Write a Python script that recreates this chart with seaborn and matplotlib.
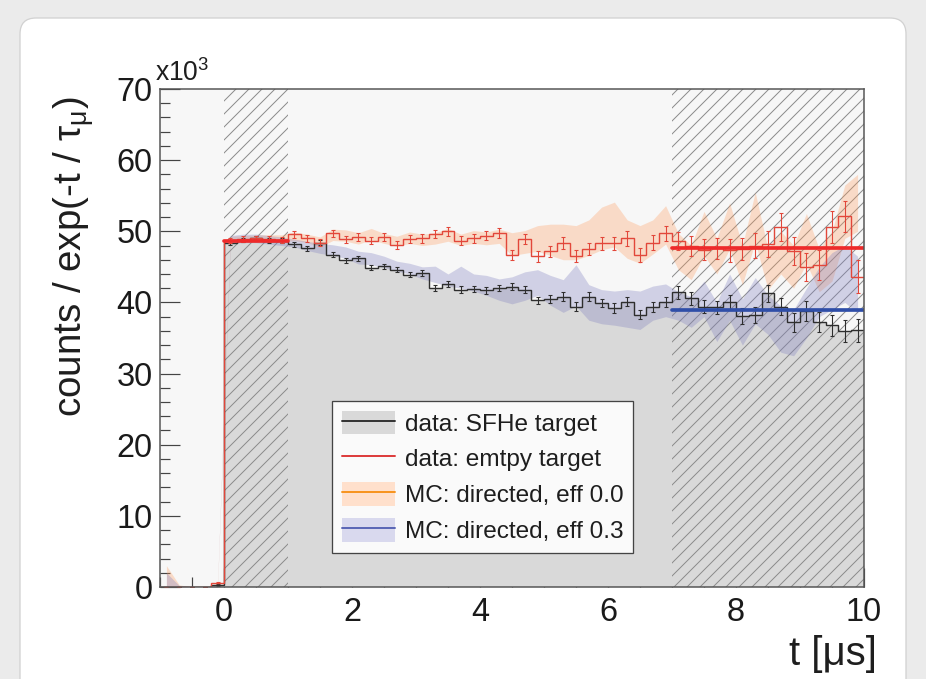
import numpy as np
import pandas as pd
import matplotlib
matplotlib.use("Agg")
import matplotlib.pyplot as plt
import seaborn as sns
from matplotlib.patches import Patch, FancyBboxPatch
from matplotlib.lines import Line2D
from matplotlib.ticker import MultipleLocator, FixedLocator
from matplotlib.transforms import IdentityTransform
from matplotlib.legend_handler import HandlerTuple

# ---------------- data (values in units of 10^3) ----------------
t_edges = np.round(np.arange(-1.0, 10.0001, 0.2), 1)
t_centers = np.round(0.5 * (t_edges[:-1] + t_edges[1:]), 2)

sfhe = [0, 0, 0, 0, 0.3,
        48.4, 48.8, 49.0, 48.7, 48.7,
        48.2, 47.6, 48.4, 46.7, 45.9,
        46.2, 44.9, 45.1, 44.6, 43.9,
        44.1, 42.0, 42.6, 41.8, 41.9,
        41.7, 42.0, 42.2, 41.8, 40.3,
        40.5, 40.8, 39.4, 40.8, 39.9,
        39.2, 40.1, 38.3, 39.4, 40.1,
        41.4, 40.6, 39.4, 39.3, 40.0,
        38.1, 38.2, 41.3, 39.4, 37.2,
        38.8, 37.2, 36.8, 36.0, 36.1]
sfhe_err = [0, 0, 0, 0, 0.1,
            0.3, 0.3, 0.3, 0.3, 0.3,
            0.35, 0.35, 0.35, 0.35, 0.35,
            0.35, 0.35, 0.35, 0.35, 0.35,
            0.45, 0.45, 0.45, 0.45, 0.45,
            0.45, 0.45, 0.5, 0.5, 0.5,
            0.6, 0.6, 0.6, 0.6, 0.6,
            0.65, 0.65, 0.65, 0.7, 0.7,
            0.9, 0.9, 0.9, 0.9, 1.0,
            1.1, 1.1, 1.2, 1.2, 1.3,
            1.4, 1.4, 1.5, 1.5, 1.6]

empty = [0, 0, 0, 0, 0.6,
         48.7, 48.9, 49.0, 48.9, 48.8,
         49.6, 49.0, 48.4, 49.7, 48.9,
         49.2, 48.7, 49.2, 48.1, 48.9,
         49.0, 49.6, 50.0, 48.7, 49.0,
         49.4, 49.8, 46.7, 48.9, 46.5,
         47.2, 48.3, 46.5, 47.5, 48.3,
         48.3, 49.0, 46.7, 48.4, 49.7,
         48.6, 47.9, 47.4, 47.6, 47.3,
         47.5, 48.0, 48.2, 50.6, 47.2,
         45.0, 45.2, 50.6, 52.1, 43.6]
empty_err = [0, 0, 0, 0, 0.1,
             0.4, 0.4, 0.4, 0.4, 0.4,
             0.5, 0.5, 0.5, 0.5, 0.5,
             0.5, 0.5, 0.55, 0.55, 0.55,
             0.6, 0.6, 0.6, 0.65, 0.65,
             0.65, 0.7, 0.7, 0.75, 0.75,
             0.8, 0.85, 0.85, 0.9, 0.9,
             0.95, 1.0, 1.0, 1.05, 1.1,
             1.3, 1.4, 1.5, 1.5, 1.6,
             1.6, 1.7, 1.8, 2.0, 2.0,
             2.0, 2.1, 2.2, 2.2, 2.3]

mc_eff00_lo = [0, 0, 0, 0, 0,
               48.4, 48.6, 48.6, 48.7, 48.5,
               48.7, 48.4, 47.8, 48.7, 48.6,
               48.2, 48.8, 48.3, 47.9, 48.3,
               48.0, 48.2, 48.6, 48.0, 48.3,
               48.1, 48.3, 46.6, 46.9, 47.2,
               46.6, 46.0, 46.0, 46.6, 47.4,
               47.8, 46.2, 45.5, 46.8, 48.2,
               44.6, 43.2, 46.6, 44.0, 47.5,
               42.5, 48.5, 41.8, 44.0, 42.0,
               45.5, 41.5, 43.0, 49.0, 50.0]
mc_eff00_hi = [3.0, 0.3, 0, 0, 0.5,
               49.3, 49.4, 49.5, 49.5, 49.5,
               49.9, 49.6, 49.2, 50.3, 50.2,
               49.8, 50.4, 49.7, 49.3, 49.9,
               49.6, 49.8, 50.4, 49.6, 50.1,
               49.9, 50.3, 49.8, 50.1, 50.8,
               51.0, 51.0, 50.8, 51.6, 53.4,
               54.1, 51.6, 50.8, 51.6, 53.6,
               49.7, 48.0, 52.8, 49.0, 54.0,
               48.0, 55.5, 47.5, 50.0, 48.0,
               52.5, 47.5, 50.0, 56.5, 58.0]

mc_eff03_lo = [0, 0, 0, 0, 0,
               48.3, 48.4, 48.4, 48.2, 48.0,
               47.8, 47.3, 46.9, 46.6, 46.2,
               45.4, 45.3, 44.9, 44.4, 44.0,
               43.3, 42.8, 42.3, 42.0, 41.6,
               41.0, 40.3, 39.8, 40.3, 41.0,
               39.6, 38.6, 39.5, 37.5, 37.0,
               36.8, 36.5, 36.2, 37.5, 38.0,
               37.5, 36.5, 38.0, 34.5, 37.5,
               34.0, 37.0, 35.5, 33.0, 32.5,
               35.0, 38.0, 39.0, 40.0, 38.5]
mc_eff03_hi = [2.0, 0.2, 0, 0, 0.3,
               49.4, 49.6, 49.6, 49.4, 49.2,
               48.9, 48.6, 48.3, 48.1, 47.8,
               47.2, 47.0, 46.5, 45.8, 45.5,
               45.0, 45.1, 44.0, 45.1, 44.0,
               43.8, 43.3, 43.6, 44.3, 44.6,
               43.8, 43.2, 45.3, 42.5, 41.8,
               41.6, 41.8, 41.6, 42.3, 42.6,
               41.5, 40.8, 43.0, 40.0, 44.0,
               40.5, 43.5, 41.0, 39.5, 39.0,
               42.0, 45.0, 47.0, 48.0, 46.5]

fit_early_t = [0, 1]
fit_early_empty = [48.7, 48.7]
fit_late_t = [7, 10]
fit_late_empty = [47.7, 47.7]
fit_late_sfhe = [39.0, 39.0]

veto_regions = [(0, 1), (7, 10)]
x_ticks = [0, 2, 4, 6, 8, 10]
y_ticks = [0, 10, 20, 30, 40, 50, 60, 70]
legend_labels = ["data: SFHe target", "data: emtpy target",
                 "MC: directed, eff 0.0", "MC: directed, eff 0.3"]

# ---------------- style ----------------
sns.set_style("ticks")
plt.rcParams["font.family"] = ["Liberation Sans", "DejaVu Sans"]
plt.rcParams["mathtext.fontset"] = "custom"
plt.rcParams["mathtext.rm"] = "Liberation Sans"
plt.rcParams["mathtext.it"] = "Liberation Sans:italic"
plt.rcParams["hatch.linewidth"] = 0.9
plt.rcParams["text.color"] = "#1e1e1e"

DPI = 78
fig = plt.figure(figsize=(926 / DPI, 679 / DPI), dpi=DPI, facecolor="#ebebeb")
panel = FancyBboxPatch((20, -40), 886, 679 - 18 + 40,
                       boxstyle="round,pad=0,rounding_size=16",
                       transform=IdentityTransform(), facecolor="white",
                       edgecolor="#d2d2d2", lw=1.2, zorder=0)
fig.add_artist(panel)

ax = fig.add_axes([160 / 926, 92 / 679, 704 / 926, 498 / 679])
ax.set_facecolor("#f7f7f7")

# grey filled SFHe histogram
df_sfhe = pd.DataFrame({"t": t_centers, "counts": sfhe})
sns.histplot(data=df_sfhe, x="t", weights="counts", bins=list(t_edges), element="step",
             fill=True, color="#d9d9d9", alpha=1, linewidth=0, ax=ax, zorder=1)

# veto (hatched) regions
for (a, b) in veto_regions:
    ax.axvspan(a, b, facecolor="none", edgecolor="#8a8a8a", hatch="//", lw=0, zorder=2)

# MC bands
ax.fill_between(t_centers, mc_eff00_lo, mc_eff00_hi, color="#ff9a5a", alpha=0.3, lw=0, zorder=3)
ax.fill_between(t_centers, mc_eff03_lo, mc_eff03_hi, color="#8080c0", alpha=0.32, lw=0, zorder=3)

# data histograms
ax.stairs(sfhe, t_edges, baseline=None, color="#2e2e2e", lw=1.3, zorder=4)
ax.errorbar(t_centers, sfhe, yerr=sfhe_err, fmt="none", ecolor="#2e2e2e",
            elinewidth=1.0, capsize=2, capthick=1.0, zorder=4)
ax.stairs(empty, t_edges, baseline=None, color="#e2473a", lw=1.3, zorder=5)
ax.errorbar(t_centers, empty, yerr=empty_err, fmt="none", ecolor="#e2473a",
            elinewidth=1.0, capsize=2, capthick=1.0, zorder=5)

# fit lines
sns.lineplot(x=fit_early_t, y=fit_early_empty, color="#ee2a2a", lw=3.4, ax=ax, zorder=6)
sns.lineplot(x=fit_late_t, y=fit_late_empty, color="#ee2a2a", lw=3.4, ax=ax, zorder=6)
sns.lineplot(x=fit_late_t, y=fit_late_sfhe, color="#2f4ea8", lw=3.4, ax=ax, zorder=6)

# axes
ax.set_xlim(-1, 10)
ax.set_ylim(0, 70)
ax.xaxis.set_major_locator(FixedLocator(x_ticks))
ax.xaxis.set_minor_locator(MultipleLocator(0.5))
ax.yaxis.set_major_locator(FixedLocator(y_ticks))
ax.yaxis.set_minor_locator(MultipleLocator(2))
ax.tick_params(which="both", direction="in", top=False, right=False,
               color="#444444", labelcolor="#1a1a1a", labelsize=30, width=1.1)
ax.tick_params(which="major", length=18)
ax.tick_params(which="minor", length=9)
ax.tick_params(axis="x", pad=9)
ax.tick_params(axis="y", pad=7)
for s in ax.spines.values():
    s.set_color("#555555")
    s.set_linewidth(1.4)
    s.set_zorder(8)

ax.set_xlabel("t [μs]", loc="right", fontsize=37, color="#1e1e1e")
ax.xaxis.set_label_coords(1.018, -0.097)
ax.set_ylabel(r"counts / exp(-t / τ$_{\mathrm{μ}}$)", loc="top", fontsize=35.5, color="#1e1e1e")
ax.yaxis.set_label_coords(-0.09, 0.985)

fig.text(155 / 926, 1 - 81 / 679, r"x10$^{3}$", fontsize=24.5, ha="left", va="baseline",
         color="#1e1e1e")

handles = [
    (Patch(facecolor="#d9d9d9", edgecolor="none"), Line2D([], [], color="#333333", lw=1.8)),
    Line2D([], [], color="#dd3a3a", lw=1.8),
    (Patch(facecolor="#ffe0cc", edgecolor="none"), Line2D([], [], color="#f7941d", lw=1.8)),
    (Patch(facecolor="#d9d9ee", edgecolor="none"), Line2D([], [], color="#5a66b5", lw=1.8)),
]
leg = ax.legend(handles, legend_labels, loc="lower left", bbox_to_anchor=(0.244, 0.068),
                borderaxespad=0, fontsize=22.5, frameon=True, fancybox=False,
                edgecolor="#444444", facecolor="#fafafa", framealpha=1,
                handlelength=2.2, handleheight=1.1, labelspacing=0.45,
                handletextpad=0.4, borderpad=0.4,
                handler_map={tuple: HandlerTuple(ndivide=1)})
leg.get_frame().set_linewidth(1.2)
leg.set_zorder(10)

fig.savefig("out.png", dpi=DPI, facecolor=fig.get_facecolor())
